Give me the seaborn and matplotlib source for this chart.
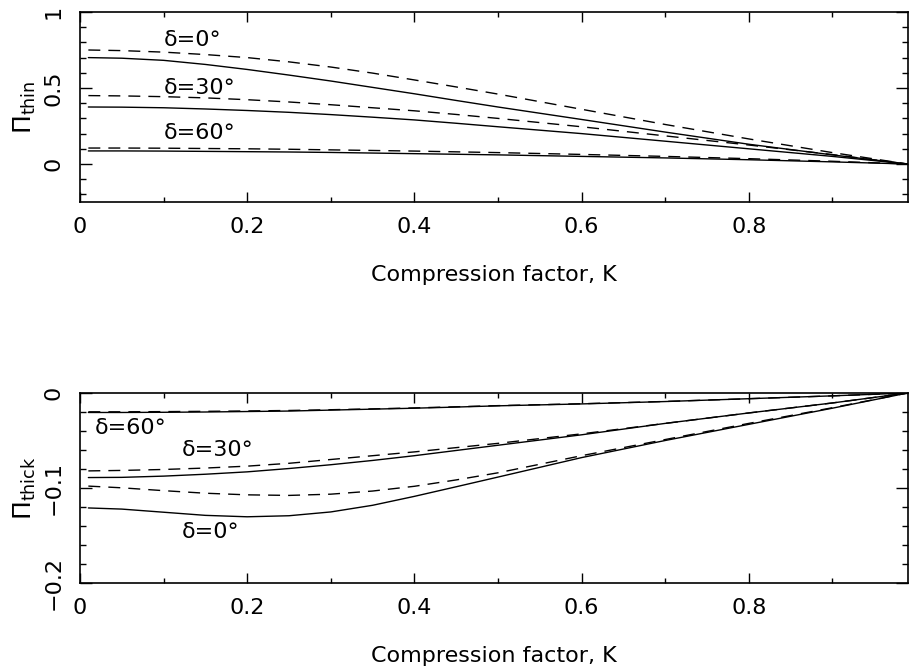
import numpy as np
import pandas as pd
import matplotlib
matplotlib.use("Agg")
import matplotlib.pyplot as plt
import seaborn as sns
from matplotlib.ticker import MultipleLocator, FixedLocator, FixedFormatter

# ---------------- data ----------------
K = [0.01, 0.05, 0.1, 0.15, 0.2, 0.25, 0.3, 0.35, 0.4, 0.45, 0.5, 0.6, 0.7, 0.8, 0.9, 0.99]

thin_full_0 = [0.70, 0.696, 0.682, 0.655, 0.622, 0.585, 0.546, 0.504, 0.462, 0.418, 0.375, 0.293, 0.21, 0.13, 0.06, 0.0]
thin_appr_0 = [0.75, 0.746, 0.736, 0.72, 0.70, 0.672, 0.638, 0.598, 0.553, 0.507, 0.46, 0.36, 0.26, 0.165, 0.075, 0.0]
thin_full_30 = [0.375, 0.374, 0.37, 0.362, 0.352, 0.34, 0.325, 0.308, 0.29, 0.268, 0.245, 0.20, 0.15, 0.10, 0.05, 0.0]
thin_appr_30 = [0.45, 0.448, 0.443, 0.435, 0.423, 0.408, 0.39, 0.37, 0.35, 0.326, 0.30, 0.245, 0.185, 0.125, 0.062, 0.0]
thin_full_60 = [0.086, 0.086, 0.085, 0.083, 0.081, 0.079, 0.076, 0.072, 0.068, 0.064, 0.06, 0.05, 0.04, 0.028, 0.014, 0.0]
thin_appr_60 = [0.105, 0.105, 0.104, 0.102, 0.10, 0.097, 0.093, 0.089, 0.085, 0.080, 0.075, 0.063, 0.05, 0.035, 0.018, 0.0]

thick_full_0 = [-0.121, -0.1222, -0.1255, -0.1288, -0.1303, -0.1292, -0.1252, -0.1182, -0.1088, -0.0987, -0.0885, -0.068, -0.050, -0.033, -0.016, 0.0]
thick_appr_0 = [-0.098, -0.0998, -0.1028, -0.1055, -0.1072, -0.1078, -0.1065, -0.1032, -0.0982, -0.0915, -0.0840, -0.066, -0.049, -0.032, -0.0155, 0.0]
thick_full_30 = [-0.089, -0.0888, -0.0875, -0.0855, -0.083, -0.0795, -0.0755, -0.071, -0.066, -0.0605, -0.055, -0.044, -0.032, -0.021, -0.0105, 0.0]
thick_appr_30 = [-0.082, -0.0815, -0.0805, -0.079, -0.077, -0.074, -0.070, -0.066, -0.062, -0.0575, -0.053, -0.043, -0.032, -0.021, -0.0105, 0.0]
thick_full_60 = [-0.0205, -0.0205, -0.0203, -0.020, -0.0195, -0.019, -0.018, -0.017, -0.016, -0.0148, -0.0135, -0.0115, -0.009, -0.006, -0.003, 0.0]
thick_appr_60 = [-0.0198, -0.0198, -0.0196, -0.0193, -0.0189, -0.0184, -0.0176, -0.0167, -0.0157, -0.0145, -0.0133, -0.0113, -0.0089, -0.006, -0.003, 0.0]

deltas = [0, 30, 60]
delta_labels = ["δ=0°", "δ=30°", "δ=60°"]

x_ticks = [0, 0.2, 0.4, 0.6, 0.8]
x_ticklabels = ["0", "0.2", "0.4", "0.6", "0.8"]
thin_yticks = [0, 0.5, 1]
thin_yticklabels = ["0", "0.5", "1"]
thick_yticks = [-0.2, -0.1, 0]
thick_yticklabels = ["\u22120.2", "\u22120.1", "0"]

xlabel = "Compression factor, K"
thin_ylabel = r"$\Pi_{\rm thin}$"
thick_ylabel = r"$\Pi_{\rm thick}$"

# ---------------- long-form tables ----------------
def build(full, appr):
    rows = []
    for d, f, a in zip(deltas, full, appr):
        for k, v in zip(K, f):
            rows.append((k, v, d, "full"))
        for k, v in zip(K, a):
            rows.append((k, v, d, "approx"))
    return pd.DataFrame(rows, columns=["K", "Pi", "delta", "kind"])

df_thin = build([thin_full_0, thin_full_30, thin_full_60],
                [thin_appr_0, thin_appr_30, thin_appr_60])
df_thick = build([thick_full_0, thick_full_30, thick_full_60],
                 [thick_appr_0, thick_appr_30, thick_appr_60])

# ---------------- style ----------------
sns.set_style("ticks")
plt.rcParams["font.family"] = ["DejaVu Sans"]
plt.rcParams["mathtext.fontset"] = "dejavusans"
plt.rcParams["axes.linewidth"] = 1.2
for key in ("text.color", "axes.labelcolor", "xtick.color", "ytick.color",
            "axes.edgecolor"):
    plt.rcParams[key] = "black"

FS = 16
fig = plt.figure(figsize=(9.09, 6.71), dpi=100)
W, H = 909, 671
x0, x1 = 80, 907.6
ax1 = fig.add_axes([x0 / W, 1 - 202 / H, (x1 - x0) / W, 190 / H])
ax2 = fig.add_axes([x0 / W, 1 - 583 / H, (x1 - x0) / W, 190 / H])

dash_map = {"full": "", "approx": (8.6, 5.8)}

for ax, df in ((ax1, df_thin), (ax2, df_thick)):
    sns.lineplot(data=df, x="K", y="Pi", units="delta", style="kind",
                 dashes=dash_map, estimator=None, color="black",
                 linewidth=1.0, legend=False, ax=ax)
    ax.set_xlim(0, 0.99)
    ax.xaxis.set_major_locator(FixedLocator(x_ticks))
    ax.xaxis.set_major_formatter(FixedFormatter(x_ticklabels))
    ax.xaxis.set_minor_locator(MultipleLocator(0.1))
    ax.tick_params(axis="both", which="both", direction="in", top=True,
                   right=True, width=1.0, colors="black", labelsize=FS)
    ax.tick_params(axis="x", which="major", length=7, pad=11)
    ax.tick_params(axis="x", which="minor", length=3.6)
    ax.tick_params(axis="y", which="major", length=8.6, pad=12,
                   labelrotation=90)
    ax.tick_params(axis="y", which="minor", length=4.3)
    ax.set_xlabel(xlabel, fontsize=FS, labelpad=20)
    for s in ax.spines.values():
        s.set_visible(True)
        s.set_color("black")

ax1.set_ylim(-0.25, 1.0)
ax1.yaxis.set_major_locator(FixedLocator(thin_yticks))
ax1.yaxis.set_major_formatter(FixedFormatter(thin_yticklabels))
ax1.yaxis.set_minor_locator(MultipleLocator(0.1))
ax1.set_ylabel(thin_ylabel, fontsize=FS + 2, labelpad=4)

ax2.set_ylim(-0.2, 0.0)
ax2.yaxis.set_major_locator(FixedLocator(thick_yticks))
ax2.yaxis.set_major_formatter(FixedFormatter(thick_yticklabels))
ax2.yaxis.set_minor_locator(MultipleLocator(0.02))
ax2.set_ylabel(thick_ylabel, fontsize=FS + 2, labelpad=4)

for ax in (ax1, ax2):
    for lbl in ax.get_yticklabels():
        lbl.set_va("center")

# curve labels
thin_label_pos = [(0.10, 0.815), (0.10, 0.50), (0.10, 0.204)]
thick_label_pos = [(0.122, -0.146), (0.122, -0.060), (0.018, -0.037)]
for (x, y), t in zip(thin_label_pos, delta_labels):
    ax1.text(x, y, t, fontsize=FS, va="center", ha="left")
for (x, y), t in zip(thick_label_pos, delta_labels):
    ax2.text(x, y, t, fontsize=FS, va="center", ha="left")

fig.savefig("out.png", dpi=100)
